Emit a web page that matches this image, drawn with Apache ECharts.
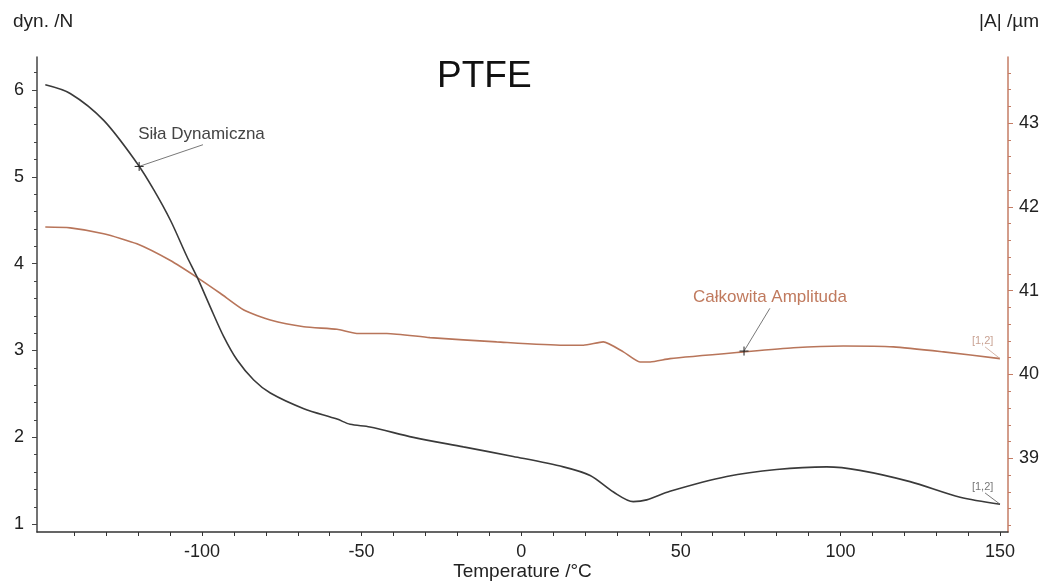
<!DOCTYPE html>
<html>
<head>
<meta charset="utf-8">
<script src="https://cdn.jsdelivr.net/npm/echarts@6/dist/echarts.min.js"></script>
<style>
    html, body { margin: 0; padding: 0; background: #fff; }
    #chart { width: 1045px; height: 582px; }
</style>
</head>
<body>
<div id="chart"></div>
<script>
// Siła Dynamiczna (left axis, N)
const forceTemp = [-149.1, -141.3, -130.8, -120.4, -115.1, -109.9, -104.7, -101.6, -97.4, -93.2, -89.0, -83.8, -78.6, -68.1, -57.7, -53.6, -47.4, -33.8, -18.1, -2.5, 13.2, 21.6, 28.9, 35.1, 39.3, 46.6, 64.4, 80.0, 95.7, 106.1, 121.8, 137.5, 150.0];
const forceVal = [6.06, 5.96, 5.65, 5.16, 4.85, 4.50, 4.08, 3.85, 3.50, 3.16, 2.89, 2.66, 2.51, 2.33, 2.21, 2.15, 2.12, 2.00, 1.89, 1.78, 1.66, 1.56, 1.37, 1.26, 1.28, 1.38, 1.55, 1.63, 1.66, 1.62, 1.49, 1.31, 1.23];

// Całkowita Amplituda (right axis, µm)
const ampTemp = [-149.1, -141.3, -130.8, -120.4, -109.9, -101.6, -94.3, -86.9, -78.6, -68.1, -57.7, -51.5, -42.1, -28.6, -7.7, 13.2, 19.5, 25.7, 32.0, 37.2, 40.4, 46.6, 69.6, 85.3, 100.9, 116.6, 132.3, 150.0];
const ampVal = [41.76, 41.75, 41.68, 41.56, 41.36, 41.16, 40.97, 40.77, 40.65, 40.57, 40.54, 40.49, 40.49, 40.44, 40.39, 40.35, 40.35, 40.39, 40.27, 40.15, 40.15, 40.19, 40.27, 40.32, 40.34, 40.33, 40.27, 40.19];

const xTicks = [-100, -50, 0, 50, 100, 150];
const leftTicks = [1, 2, 3, 4, 5, 6];
const rightTicks = [39, 40, 41, 42, 43];

// annotation anchors (data coordinates)
const forceMarker = [-119.7, 5.12];
const forceLeaderEnd = [-99.7, 5.37];
const forceLabelAt = [-120.0, 5.49];
const ampMarker = [69.8, 40.28];
const ampLeaderEnd = [77.9, 40.79];
const ampLabelAt = [53.8, 40.92];
const forceEndTag = [[141.2, 1.43], [145.3, 1.36], [150.0, 1.23]];
const ampEndTag = [[141.2, 40.40], [145.3, 40.33], [150.0, 40.19]];

const FONT = '"Liberation Sans", Arial, sans-serif';
const DARK = '#3a3a3a';
const BROWN = '#b8755a';
const RIGHT_AXIS = '#c47c64';

const crossPath = 'path://M0,5L10,5M5,0L5,10';

const chart = echarts.init(document.getElementById('chart'), null, { renderer: 'canvas' });

const tagLabel = (txt, color) => ({
    show: true, formatter: txt, position: 'right', distance: 0,
    color, fontSize: 11, fontFamily: FONT
});

chart.setOption({
    animation: false,
    backgroundColor: '#fff',
    grid: { left: 37, right: 37, top: 57, bottom: 50, containLabel: false, outerBoundsMode: 'none' },
    graphic: [
        { type: 'text', left: 13, top: 12, style: { text: 'dyn. /N', fontSize: 19, fontFamily: FONT, fill: '#222' } },
        { type: 'text', right: 6, top: 12, style: { text: '|A| /µm', fontSize: 19, fontFamily: FONT, fill: '#222' } },
        { type: 'text', left: 437, top: 58, style: { text: 'PTFE', fontSize: 37, fontFamily: FONT, fill: '#111' } }
    ],
    xAxis: {
        type: 'value',
        min: -151.7,
        max: 152.5,
        name: 'Temperature /°C',
        nameLocation: 'middle',
        nameGap: 30,
        nameMoveOverlap: false,
        nameTextStyle: { color: '#222', fontSize: 19, fontFamily: FONT },
        axisLine: { onZero: false, lineStyle: { color: '#333', width: 1.5 } },
        axisTick: { customValues: xTicks, length: 4, lineStyle: { color: '#333' } },
        minorTick: { show: true, splitNumber: 5, length: 4, lineStyle: { color: '#333' } },
        axisLabel: { customValues: xTicks, color: '#222', fontSize: 18, fontFamily: FONT, margin: 11 },
        splitLine: { show: false }
    },
    yAxis: [
        {
            type: 'value',
            position: 'left',
            min: 0.91,
            max: 6.38,
            axisLine: { show: true, onZero: false, lineStyle: { color: '#444', width: 1.5 } },
            axisTick: { show: true, customValues: leftTicks, length: 5, lineStyle: { color: '#444' } },
            minorTick: { show: true, splitNumber: 5, length: 3, lineStyle: { color: '#444' } },
            axisLabel: { customValues: leftTicks, color: '#222', fontSize: 18, fontFamily: FONT, margin: 13 },
            splitLine: { show: false }
        },
        {
            type: 'value',
            position: 'right',
            min: 38.12,
            max: 43.79,
            axisLine: { show: true, onZero: false, lineStyle: { color: RIGHT_AXIS, width: 1.5 } },
            axisTick: { show: true, customValues: rightTicks, length: 5, lineStyle: { color: RIGHT_AXIS } },
            minorTick: { show: true, splitNumber: 5, length: 3, lineStyle: { color: RIGHT_AXIS } },
            axisLabel: { customValues: rightTicks, color: '#222', fontSize: 18, fontFamily: FONT, margin: 11 },
            splitLine: { show: false }
        }
    ],
    series: [
        {
            name: 'Siła Dynamiczna',
            type: 'line',
            yAxisIndex: 0,
            data: forceTemp.map((t, i) => [t, forceVal[i]]),
            smooth: 0.3,
            symbol: 'none',
            lineStyle: { color: DARK, width: 1.6 },
            z: 3,
            markPoint: {
                silent: true,
                data: [
                    { coord: forceMarker, symbol: crossPath, symbolSize: 9,
                      itemStyle: { color: 'none', borderColor: '#222', borderWidth: 1 }, label: { show: false } },
                    { coord: forceLabelAt, symbol: 'circle', symbolSize: 0,
                      label: { show: true, formatter: 'Siła Dynamiczna', position: 'right', distance: 0,
                               color: '#444', fontSize: 17, fontFamily: FONT } },
                    { coord: forceEndTag[0], symbol: 'circle', symbolSize: 0, label: tagLabel('[1,2]', '#777') }
                ]
            },
            markLine: {
                silent: true,
                symbol: ['none', 'none'],
                label: { show: false },
                lineStyle: { type: 'solid', width: 0.8, color: '#555' },
                data: [
                    [{ coord: forceMarker }, { coord: forceLeaderEnd }],
                    [{ coord: forceEndTag[1] }, { coord: forceEndTag[2] }]
                ]
            }
        },
        {
            name: 'Całkowita Amplituda',
            type: 'line',
            yAxisIndex: 1,
            data: ampTemp.map((t, i) => [t, ampVal[i]]),
            smooth: 0.2,
            symbol: 'none',
            lineStyle: { color: BROWN, width: 1.6 },
            z: 2,
            markPoint: {
                silent: true,
                data: [
                    { coord: ampMarker, symbol: crossPath, symbolSize: 9,
                      itemStyle: { color: 'none', borderColor: '#222', borderWidth: 1 }, label: { show: false } },
                    { coord: ampLabelAt, symbol: 'circle', symbolSize: 0,
                      label: { show: true, formatter: 'Całkowita Amplituda', position: 'right', distance: 0,
                               color: '#c07a5e', fontSize: 17, fontFamily: FONT } },
                    { coord: ampEndTag[0], symbol: 'circle', symbolSize: 0, label: tagLabel('[1,2]', '#c9a293') }
                ]
            },
            markLine: {
                silent: true,
                symbol: ['none', 'none'],
                label: { show: false },
                lineStyle: { type: 'solid', width: 0.8, color: '#555' },
                data: [
                    [{ coord: ampMarker }, { coord: ampLeaderEnd }],
                    [{ coord: ampEndTag[1] }, { coord: ampEndTag[2], lineStyle: { color: '#c9a293' } }]
                ]
            }
        }
    ]
});
</script>
</body>
</html>
